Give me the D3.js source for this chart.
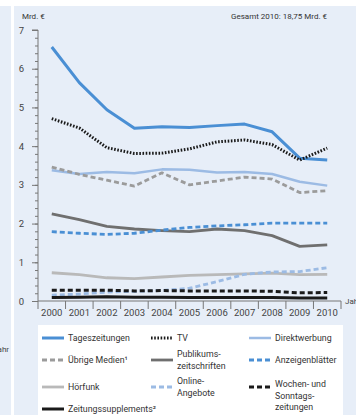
<!DOCTYPE html>
<html>
<head>
<meta charset="utf-8">
<script src="https://cdn.jsdelivr.net/npm/d3@7"></script>
<style>
  html, body { margin: 0; padding: 0; background: #fff; }
  svg { display: block; }
</style>
</head>
<body>
<div id="chart"></div>
<script>
// years and series values (Mrd. €)
const years = [2000, 2001, 2002, 2003, 2004, 2005, 2006, 2007, 2008, 2009, 2010];
const tageszeitungen = [6.56, 5.64, 4.94, 4.46, 4.50, 4.48, 4.53, 4.57, 4.37, 3.69, 3.64];
const tv = [4.71, 4.47, 3.96, 3.81, 3.82, 3.93, 4.11, 4.16, 4.04, 3.64, 3.95];
const direktwerbung = [3.38, 3.28, 3.33, 3.30, 3.40, 3.39, 3.32, 3.33, 3.28, 3.08, 2.98];
const uebrigeMedien = [3.46, 3.27, 3.12, 2.97, 3.31, 3.00, 3.10, 3.20, 3.15, 2.80, 2.85];
const publikum = [2.25, 2.10, 1.93, 1.86, 1.82, 1.79, 1.86, 1.82, 1.69, 1.41, 1.45];
const anzeigenblaetter = [1.79, 1.75, 1.72, 1.75, 1.83, 1.90, 1.94, 1.97, 2.01, 2.01, 2.01];
const hoerfunk = [0.73, 0.68, 0.60, 0.58, 0.62, 0.66, 0.68, 0.70, 0.72, 0.68, 0.69];
const online = [0.15, 0.18, 0.23, 0.25, 0.27, 0.33, 0.50, 0.69, 0.75, 0.76, 0.86];
const wochenzeitungen = [0.28, 0.28, 0.28, 0.26, 0.27, 0.26, 0.26, 0.26, 0.25, 0.21, 0.22];
const supplements = [0.09, 0.10, 0.11, 0.10, 0.10, 0.09, 0.09, 0.09, 0.09, 0.08, 0.08];
const yTicks = [0, 1, 2, 3, 4, 5, 6, 7];

const series = [
  {name: ["Tageszeitungen"], values: tageszeitungen, color: "#4a8fd4", width: 3, dash: null},
  {name: ["TV"], values: tv, color: "#1a1a1a", width: 3, dash: "1.6,1.6"},
  {name: ["Direktwerbung"], values: direktwerbung, color: "#9cbbe4", width: 2.5, dash: null},
  {name: ["Übrige Medien¹"], values: uebrigeMedien, color: "#9b9b9b", width: 2.8, dash: "5,3"},
  {name: ["Publikums-", "zeitschriften"], values: publikum, color: "#6f6f6f", width: 2.8, dash: null},
  {name: ["Anzeigenblätter"], values: anzeigenblaetter, color: "#4a8fd4", width: 2.8, dash: "5,3"},
  {name: ["Hörfunk"], values: hoerfunk, color: "#b9b9b9", width: 2.8, dash: null},
  {name: ["Online-", "Angebote"], values: online, color: "#9cbbe4", width: 2.8, dash: "5,3"},
  {name: ["Wochen- und", "Sonntags-", "zeitungen"], values: wochenzeitungen, color: "#1a1a1a", width: 3, dash: "5,3"},
  {name: ["Zeitungssupplements²"], values: supplements, color: "#1a1a1a", width: 3, dash: null}
];

const width = 356, height = 415;
const font = "Roboto, 'Liberation Sans', sans-serif";

const svg = d3.select("#chart").append("svg")
    .attr("width", width)
    .attr("height", height)
    .attr("font-family", font);

// backgrounds
svg.append("rect").attr("width", width).attr("height", height).attr("fill", "#e7eef8");
svg.append("rect").attr("width", width).attr("height", 6).attr("fill", "#fff");
svg.append("rect").attr("x", 11).attr("y", 0).attr("width", 3).attr("height", height).attr("fill", "#fff");
// left edge: end of the neighbouring panel's axis label
svg.append("text").attr("x", 9).attr("y", 352).attr("text-anchor", "end")
    .attr("font-size", 8).attr("fill", "#444").text("Jahr");

const x = d3.scaleBand(years, [38, 341]);
const y = d3.scaleLinear([0, 7], [301, 30]);

// y axis with minor ticks
svg.append("g")
    .attr("transform", "translate(38,0)")
    .call(d3.axisLeft(y).tickValues(d3.range(0, 7.01, 0.2)).tickSize(3).tickFormat(""))
    .call(g => g.select(".domain").remove())
    .call(g => g.selectAll("line").attr("stroke", "#777"));
svg.append("g")
    .attr("transform", "translate(38,0)")
    .call(d3.axisLeft(y).tickValues(yTicks).tickSize(6).tickPadding(8).tickFormat(d3.format("d")))
    .call(g => g.select(".domain").attr("stroke", "#777").attr("d", "M-6,30H0V301"))
    .call(g => g.selectAll("line").attr("stroke", "#777"))
    .call(g => g.selectAll("text").attr("font-size", 9.5).attr("fill", "#444").attr("font-family", font));

// x axis: labels centred in bands, ticks on band edges
const xg = svg.append("g").attr("transform", "translate(0,301)");
xg.call(d3.axisBottom(x).tickSize(0).tickPadding(8))
    .call(g => g.select(".domain").attr("stroke", "#777").attr("d", "M38,0H341"))
    .call(g => g.selectAll("text").attr("font-size", 9.5).attr("fill", "#444").attr("font-family", font));
xg.selectAll(".edge")
  .data(years.map(d => x(d)).concat([x.range()[1]]))
  .join("line")
    .attr("x1", d => d).attr("x2", d => d)
    .attr("y1", 0).attr("y2", 8)
    .attr("stroke", "#777");
svg.append("text").attr("x", 345).attr("y", 304)
    .attr("font-size", 8).attr("fill", "#444").text("Jahr");

svg.append("text").attr("x", 22).attr("y", 19)
    .attr("font-size", 8).attr("fill", "#333").text("Mrd. €");
svg.append("text").attr("x", 327).attr("y", 19).attr("text-anchor", "end")
    .attr("font-size", 8).attr("fill", "#333").text("Gesamt 2010: 18,75 Mrd. €");

// lines
const line = d3.line()
    .x((d, i) => x(years[i]) + x.bandwidth() / 2)
    .y(d => y(d));

svg.append("g")
  .selectAll("path")
  .data(series)
  .join("path")
    .attr("fill", "none")
    .attr("stroke", d => d.color)
    .attr("stroke-width", d => d.width)
    .attr("stroke-dasharray", d => d.dash)
    .attr("stroke-linejoin", "round")
    .attr("d", d => line(d.values));

// legend
svg.append("rect").attr("x", 38).attr("y", 325).attr("width", 305).attr("height", 95).attr("fill", "#fff");

const colX = [42, 151, 249];
const rowY = [338, 360, 387, 409];

const item = svg.append("g")
  .selectAll("g")
  .data(series)
  .join("g")
    .attr("transform", (d, i) => `translate(${colX[i % 3]},${rowY[Math.floor(i / 3)]})`);

item.append("line")
    .attr("x1", 0).attr("x2", 22)
    .attr("stroke", d => d.color)
    .attr("stroke-width", d => d.width)
    .attr("stroke-dasharray", d => d.dash);

item.append("text")
    .attr("font-size", 8.8)
    .attr("fill", "#333")
    .selectAll("tspan")
    .data(d => d.name.map((t, j) => ({t, j, n: d.name.length})))
    .join("tspan")
      .attr("x", 26)
      .attr("y", d => (d.n === 1 ? 0 : d.n === 2 ? -6 : -3) + d.j * 11.5)
      .attr("dy", "0.35em")
      .text(d => d.t);
</script>
</body>
</html>
